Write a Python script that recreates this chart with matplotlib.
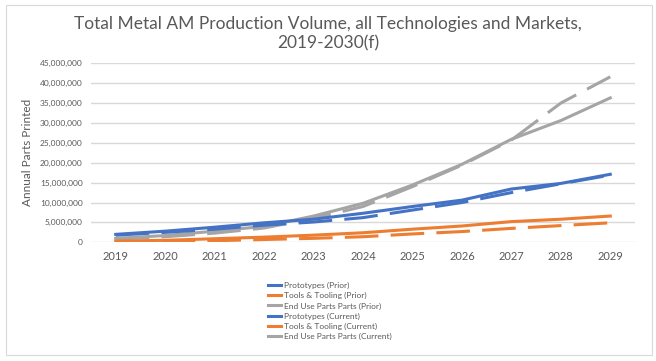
import matplotlib.pyplot as plt
from matplotlib.lines import Line2D
from matplotlib.patches import Rectangle
from matplotlib.ticker import FuncFormatter

plt.rcParams['font.family'] = ['Lato', 'DejaVu Sans']

years = ['2019', '2020', '2021', '2022', '2023', '2024', '2025', '2026', '2027', '2028', '2029']

# millions of parts
proto_prior = [1.8, 2.5, 3.3, 4.3, 5.1, 6.2, 8.1, 10.0, 12.5, 14.7, 16.9]
tools_prior = [0.1, 0.2, 0.4, 0.7, 1.0, 1.4, 2.1, 2.7, 3.5, 4.2, 4.9]
enduse_prior = [0.8, 1.4, 2.3, 3.6, 6.0, 9.0, 14.0, 19.4, 25.7, 35.0, 41.6]
proto_cur = [2.0, 2.8, 3.8, 4.9, 5.8, 7.3, 9.0, 10.6, 13.4, 14.8, 17.1]
tools_cur = [0.3, 0.5, 0.9, 1.3, 1.8, 2.4, 3.3, 4.1, 5.2, 5.8, 6.6]
enduse_cur = [1.0, 1.7, 2.8, 4.0, 6.6, 9.8, 14.4, 19.6, 25.9, 30.6, 36.3]

labels = ['Prototypes (Prior)', 'Tools & Tooling (Prior)', 'End Use Parts Parts (Prior)',
          'Prototypes (Current)', 'Tools & Tooling (Current)', 'End Use Parts Parts (Current)']

blue = '#4472C4'
orange = '#ED7D31'
gray = '#A5A5A5'

fig = plt.figure(figsize=(6.56, 3.61), dpi=100)
ax = fig.add_axes([0.1387, 0.3288, 0.968 - 0.1387, 0.8247 - 0.3288])

x = list(range(len(years)))
dash = (0, (11, 4))
ax.plot(x, [v * 1e6 for v in enduse_prior], color=gray, lw=2.2, linestyle=dash)
ax.plot(x, [v * 1e6 for v in enduse_cur], color=gray, lw=2.2)
ax.plot(x, [v * 1e6 for v in tools_prior], color=orange, lw=2.2, linestyle=dash)
ax.plot(x, [v * 1e6 for v in tools_cur], color=orange, lw=2.2)
ax.plot(x, [v * 1e6 for v in proto_prior], color=blue, lw=2.2, linestyle=dash)
ax.plot(x, [v * 1e6 for v in proto_cur], color=blue, lw=2.2)

ax.set_xlim(-0.5, len(years) - 0.5)
ax.set_ylim(0, 45e6)
ax.set_yticks([i * 5e6 for i in range(10)])
ax.yaxis.set_major_formatter(FuncFormatter(lambda v, p: '{:,.0f}'.format(v)))
ax.set_xticks(x)
ax.set_xticklabels(years)
ax.grid(axis='y', color='#D9D9D9', lw=1)
ax.set_axisbelow(True)
for s in ax.spines.values():
    s.set_visible(False)
ax.tick_params(axis='y', length=0, labelsize=6, labelcolor='#595959', pad=6)
ax.tick_params(axis='x', length=0, labelsize=8, labelcolor='#595959', pad=6)
ax.set_ylabel('Annual Parts Printed', fontsize=8.5, color='#595959', labelpad=5)

fig.text(0.5, 0.955, 'Total Metal AM Production Volume, all Technologies and Markets,\n2019-2030(f)',
         ha='center', va='top', fontsize=12.5, color='#595959', linespacing=1.25)

colors = [blue, orange, gray, blue, orange, gray]
handles = [Line2D([0], [0], color=c, lw=2.2) for c in colors]
fig.legend(handles, labels, loc='upper left', bbox_to_anchor=(264 / 656, 1 - 278 / 361),
           frameon=False, fontsize=6, handlelength=1.5, handletextpad=0.4,
           labelspacing=0.35, borderpad=0, labelcolor='#595959')

fig.add_artist(Rectangle((6 / 656, 6 / 361), 646 / 656, 350 / 361, transform=fig.transFigure,
                         fill=False, edgecolor='#D9D9D9', lw=0.8))

fig.savefig('out.png', dpi=100)
